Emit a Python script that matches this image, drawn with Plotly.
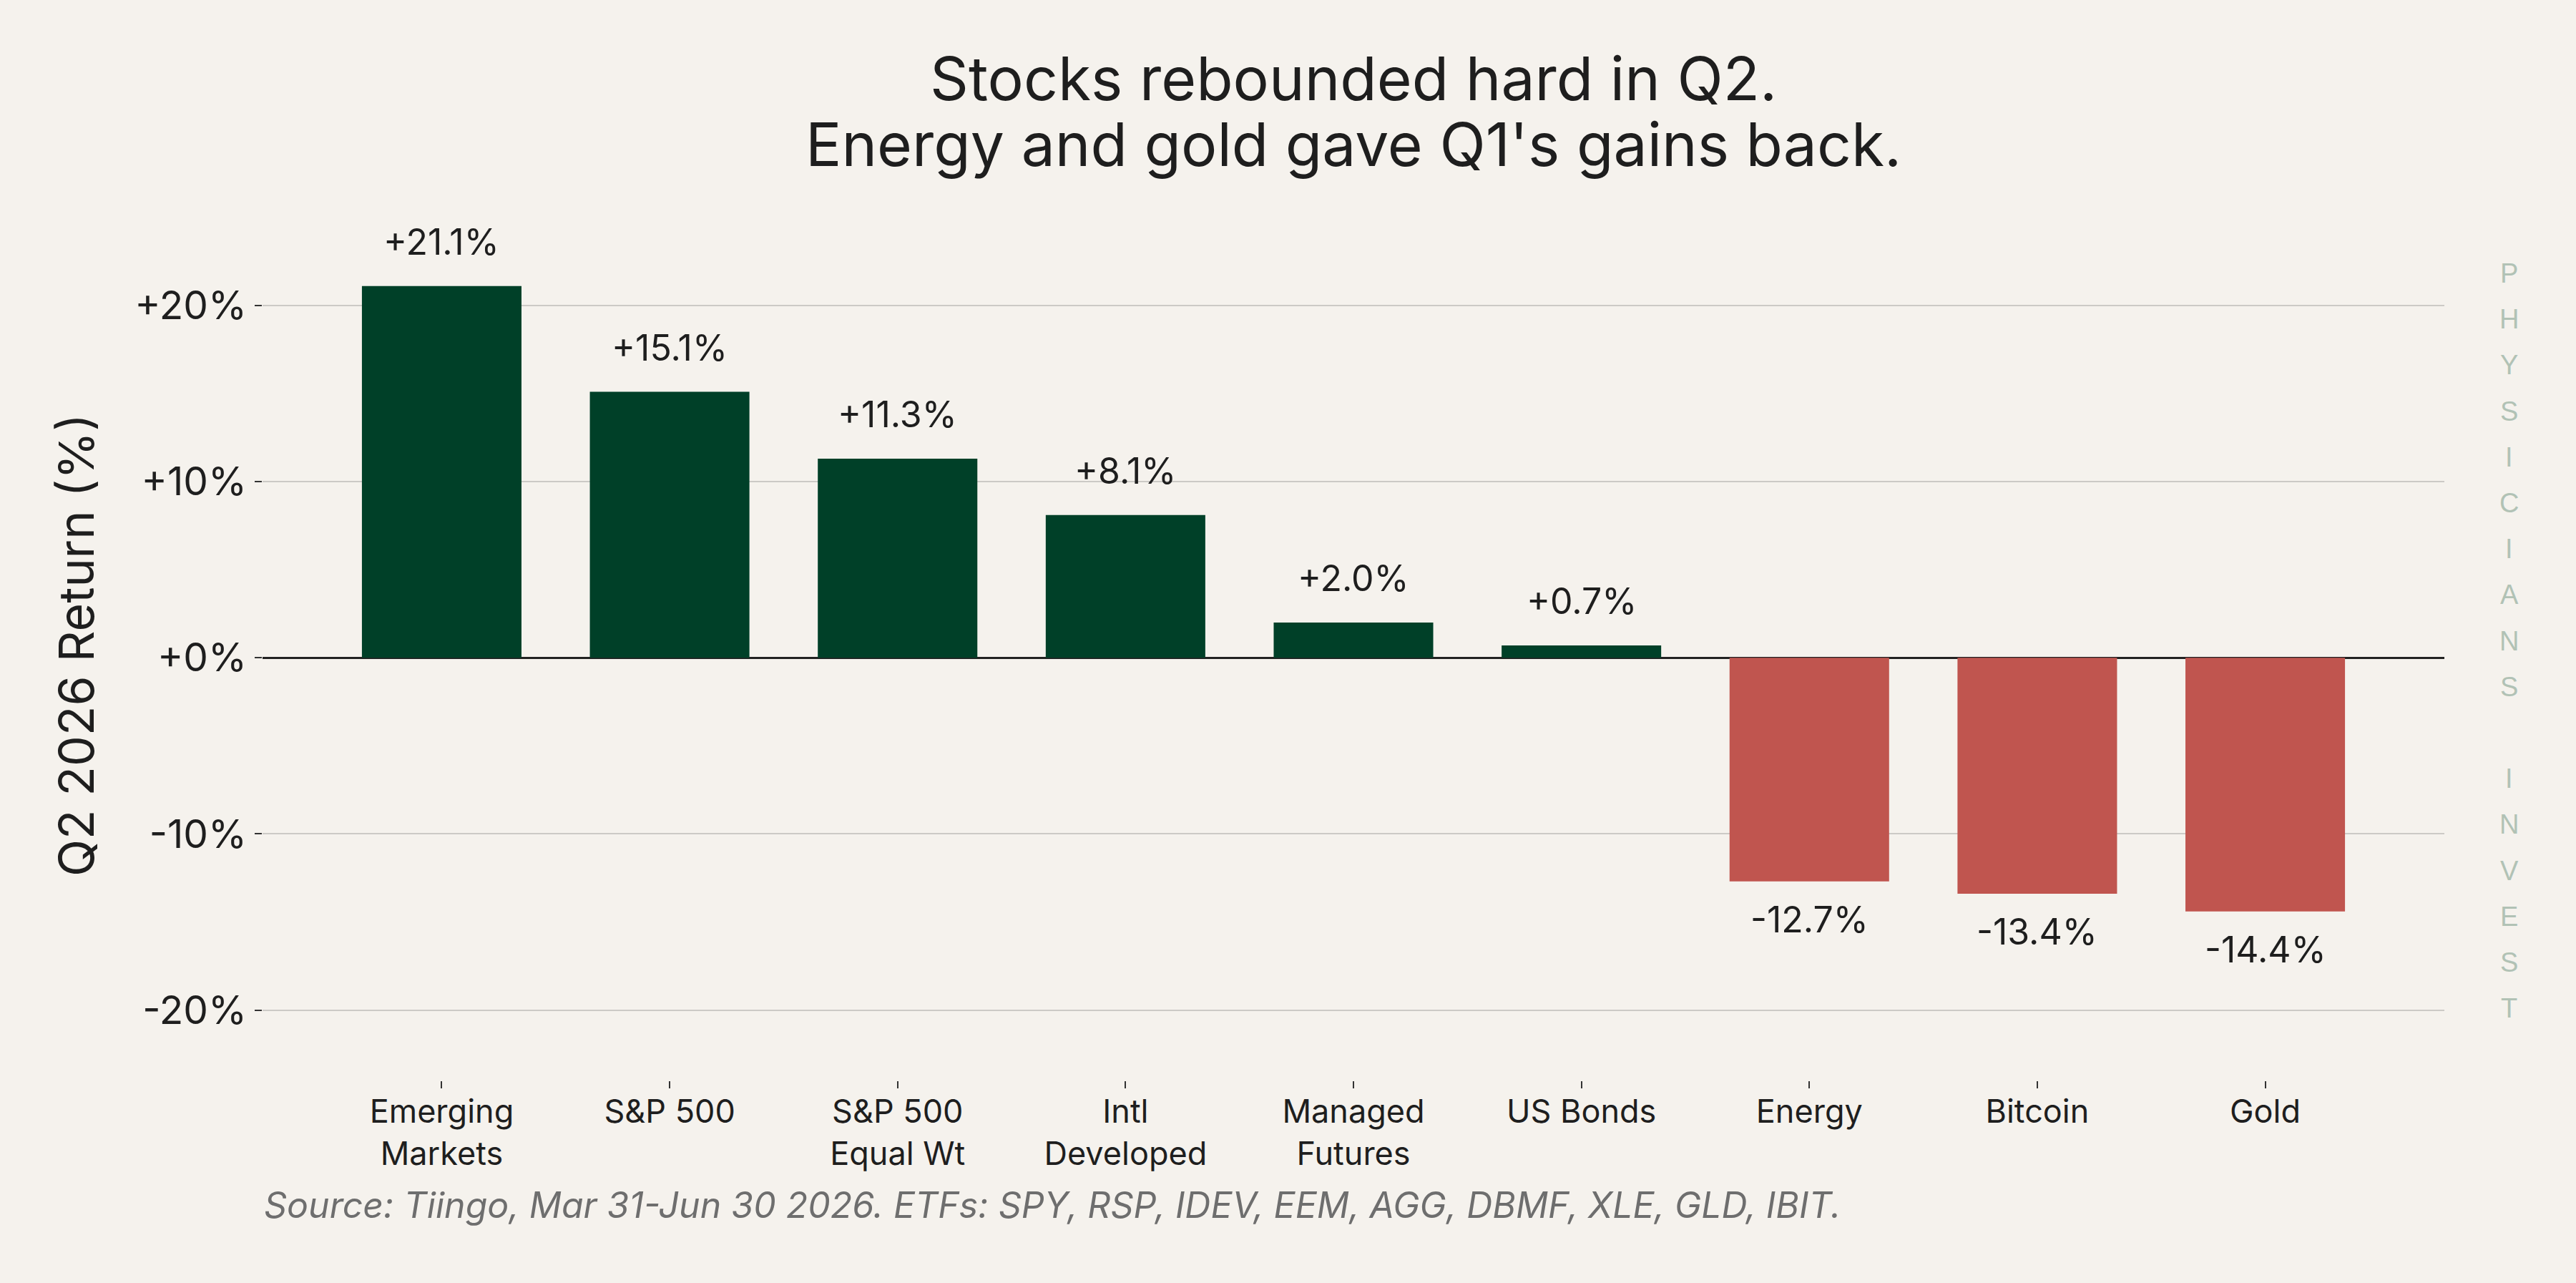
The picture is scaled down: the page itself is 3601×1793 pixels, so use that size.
import plotly.graph_objects as go

# ---- data ----
categories = ["Emerging Markets", "S&P 500", "S&P 500 Equal Wt", "Intl Developed",
              "Managed Futures", "US Bonds", "Energy", "Bitcoin", "Gold"]
tick_labels = ["Emerging<br>Markets", "S&P 500", "S&P 500<br>Equal Wt", "Intl<br>Developed",
               "Managed<br>Futures", "US Bonds", "Energy", "Bitcoin", "Gold"]
returns_pct = [21.1, 15.1, 11.3, 8.1, 2.0, 0.7, -12.7, -13.4, -14.4]
y_tick_vals = [-20, -10, 0, 10, 20]
y_tick_text = ["-20%", "-10%", "+0%", "+10%", "+20%"]
title_lines = ["Stocks rebounded hard in Q2.", "Energy and gold gave Q1's gains back."]
y_title = "Q2 2026 Return (%)"
source_text = "Source: Tiingo, Mar 31-Jun 30 2026. ETFs: SPY, RSP, IDEV, EEM, AGG, DBMF, XLE, GLD, IBIT."
watermark = "PHYSICIANS INVEST"

# ---- style ----
BG = "#f5f2ed"
GREEN = "#004028"
RED = "#c0554f"
TEXT = "#1e1e1e"
FONT = "Inter"

W, H = 3601, 1793
L, R, T, B = 367, 184, 294, 283
plot_w = W - L - R
plot_h = H - T - B

def px_to_paper_y(py):
    return (H - B - py) / plot_h

def px_to_paper_x(px):
    return (px - L) / plot_w

colors = [GREEN if v >= 0 else RED for v in returns_pct]
x_idx = list(range(len(categories)))

fig = go.Figure()
fig.add_trace(go.Bar(
    x=x_idx, y=returns_pct, marker=dict(color=colors, line=dict(width=0)),
    width=0.70, hoverinfo="skip", showlegend=False,
))

annotations = []
# value labels
for i, v in enumerate(returns_pct):
    label = f"{v:+.1f}%"
    if v >= 0:
        annotations.append(dict(x=i, y=v, xref="x", yref="y", text=label, showarrow=False,
                                xanchor="center", yanchor="bottom", yshift=30,
                                font=dict(family=FONT, size=50, color=TEXT)))
    else:
        annotations.append(dict(x=i, y=v, xref="x", yref="y", text=label, showarrow=False,
                                xanchor="center", yanchor="top", yshift=-21,
                                font=dict(family=FONT, size=50, color=TEXT)))

# title (two lines)
annotations.append(dict(x=0.5, y=px_to_paper_y(162), xref="paper", yref="paper",
                        text=title_lines[0], showarrow=False, xanchor="center", yanchor="bottom",
                        font=dict(family=FONT, size=84, color=TEXT)))
annotations.append(dict(x=0.5, y=px_to_paper_y(254), xref="paper", yref="paper",
                        text=title_lines[1], showarrow=False, xanchor="center", yanchor="bottom",
                        font=dict(family=FONT, size=84, color=TEXT)))

# y-axis title
annotations.append(dict(x=px_to_paper_x(106), y=0.5, xref="paper", yref="paper",
                        text=y_title, showarrow=False, textangle=-90,
                        xanchor="center", yanchor="middle",
                        font=dict(family=FONT, size=68, color=TEXT)))

# source
annotations.append(dict(x=px_to_paper_x(367), y=px_to_paper_y(1716), xref="paper", yref="paper",
                        text=f"<i>{source_text}</i>", showarrow=False,
                        xanchor="left", yanchor="bottom",
                        font=dict(family=FONT, size=50, color="#6e6e6e")))

# watermark, stacked letters
y0, step = 382, 64.2
for k, ch in enumerate(watermark):
    if ch == " ":
        continue
    annotations.append(dict(x=px_to_paper_x(3508), y=px_to_paper_y(y0 + k * step),
                            xref="paper", yref="paper", text=ch, showarrow=False,
                            xanchor="center", yanchor="middle",
                            font=dict(family="Liberation Sans", size=38, color="#b1c2b5")))

fig.update_layout(
    width=W, height=H,
    margin=dict(l=L, r=R, t=T, b=B, pad=0),
    paper_bgcolor=BG, plot_bgcolor=BG,
    font=dict(family=FONT, color=TEXT),
    annotations=annotations,
    bargap=0.3,
)
fig.update_xaxes(
    range=[-0.786, 8.786], tickmode="array", tickvals=x_idx, ticktext=tick_labels,
    tickfont=dict(family=FONT, size=45, color=TEXT),
    ticks="outside", ticklen=10, tickwidth=2, tickcolor="#333333",
    ticklabelstandoff=-6,
    showgrid=False, showline=False, zeroline=False,
)
fig.update_yaxes(
    range=[-24.0, 25.4], tickmode="array", tickvals=y_tick_vals, ticktext=y_tick_text,
    tickfont=dict(family=FONT, size=55, color=TEXT),
    ticks="outside", ticklen=10, tickwidth=2, tickcolor="#333333",
    ticklabelstandoff=0,
    showgrid=True, gridcolor="rgba(110,110,110,0.3)", gridwidth=1.5,
    zeroline=True, zerolinecolor="#222222", zerolinewidth=2.5,
    showline=False, layer="above traces",
)

fig.write_html("out.html", config={"displayModeBar": False},
               post_script="document.body.style.margin='0';")
